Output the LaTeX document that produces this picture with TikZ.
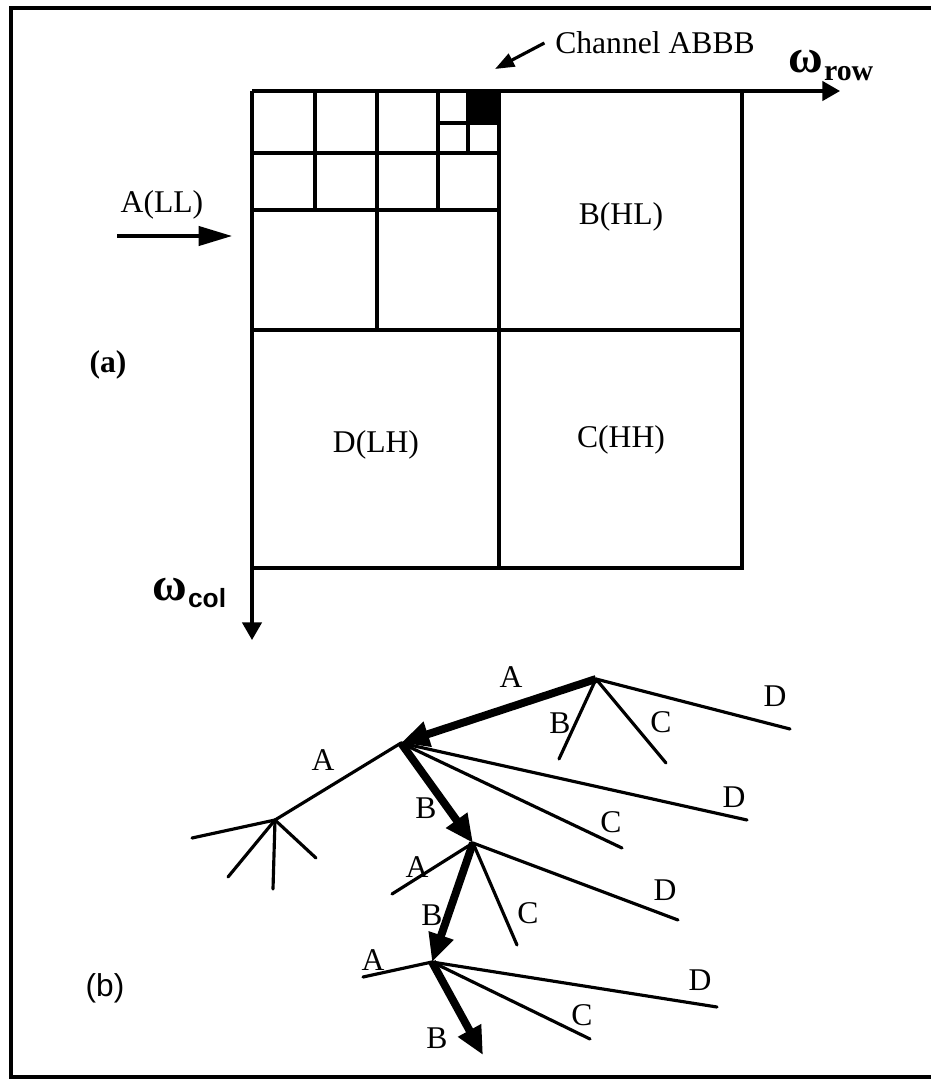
\documentclass[tikz,border=0pt]{standalone}
\usepackage{fontspec}
\setmainfont{Liberation Serif}
\setsansfont{Liberation Sans}
\usepackage{tikz}
\usetikzlibrary{arrows.meta, positioning, calc}
\tikzset{
  frameline/.style={line width=2pt},
  gridline/.style={line width=1.8pt},
  axis/.style={line width=1.8pt, -{Triangle[length=10pt, width=11pt]}},
  inarrow/.style={line width=1.8pt, -{Triangle[length=19pt, width=11pt]}},
  pointer/.style={line width=1.8pt, -{Triangle[length=11pt, width=8pt]}},
  branch/.style={line width=1.8pt, line cap=round},
  pathedge/.style={line width=4.5pt, -{Triangle[length=16pt, width=14pt]}},
  lbl/.style={font=\fontsize{18}{20}\selectfont, inner sep=0pt},
  tag/.style={font=\fontsize{18}{20}\selectfont\bfseries, inner sep=0pt},
  omega/.style={font=\fontsize{27}{28}\selectfont\bfseries, inner sep=0pt}
}

\begin{document}
\begin{tikzpicture}[x=0.02cm, y=-0.02cm]
  \useasboundingbox (0,0) rectangle (931,1079);
  % frame
  \draw[frameline] (931,8) -- (11,8) -- (11,1077) -- (931,1077);

  % (a) subband layout
  \coordinate (o) at (252,91);
  \coordinate (rowend) at (840,91);
  \coordinate (colend) at (252,640);
  \draw[axis] (o) -- (rowend);
  \draw[axis] (o) -- (colend);
  \draw[gridline] (742,91) -- (742,568) -- (252,568);
  \draw[gridline] (499,91) -- (499,568);
  \draw[gridline] (252,330) -- (742,330);
  \draw[gridline] (377,91) -- (377,330);
  \draw[gridline] (252,210) -- (499,210);
  \draw[gridline] (315,91) -- (315,210);
  \draw[gridline] (438,91) -- (438,210);
  \draw[gridline] (252,153) -- (499,153);
  \draw[gridline] (468,91) -- (468,153);
  \draw[gridline] (438,123) -- (499,123);
  \fill (468,91) rectangle (499,123);

  \node[lbl] (chan) at (655,43) {Channel ABBB};
  \coordinate (chantip) at (495,69);
  \draw[pointer] ([xshift=-6pt]chan.west) -- (chantip);
  \node[omega] (wrow) at (806,62) {ω};
  \node[tag, font=\fontsize{17}{18}\selectfont\bfseries, anchor=west] (rowsub) at (wrow.east |- 0,74) {row};
  \node[omega] (wcol) at (170,590) {ω};
  \node[tag, font=\fontsize{15}{16}\selectfont\sffamily\bfseries, anchor=west] (colsub) at (wcol.east |- 0,598) {col};

  \node[lbl] (ll) at (162,205) {A(LL)};
  \coordinate (llfrom) at (117,236);
  \coordinate (llto) at (232,236);
  \draw[inarrow] (llfrom) -- (llto);
  \node[lbl] (hl) at (621,217) {B(HL)};
  \node[lbl] (lh) at (376,445) {D(LH)};
  \node[lbl] (hh) at (621,440) {C(HH)};
  \node[tag] (taga) at (108,365) {(a)};

  % (b) decomposition tree
  \node[tag, font=\fontsize{18}{20}\selectfont\sffamily] (tagb) at (105,988) {(b)};
  \coordinate (r) at (596,679);
  \coordinate (n1) at (401,743);
  \coordinate (n0) at (275,820);
  \coordinate (n2) at (473,843);
  \coordinate (n3) at (432,962);
  \coordinate (n4) at (483,1055);

  \coordinate (rb) at (559,759);
  \coordinate (rc) at (666,763);
  \coordinate (rd) at (790,729);
  \draw[pathedge] (r) -- (n1);
  \draw[branch] (r) -- (rb);
  \draw[branch] (r) -- (rc);
  \draw[branch] (r) -- (rd);
  \node[lbl] (ra) at (511,677) {A};
  \node[lbl] (rbl) at (560,723) {B};
  \node[lbl] (rcl) at (661,722) {C};
  \node[lbl] (rdl) at (775,696) {D};

  \coordinate (c1) at (622,848);
  \coordinate (d1) at (747,820);
  \draw[branch] (n1) -- (n0);
  \draw[pathedge] (n1) -- (n2);
  \draw[branch] (n1) -- (c1);
  \draw[branch] (n1) -- (d1);
  \node[lbl] (a1) at (323,760) {A};
  \node[lbl] (b1) at (426,808) {B};
  \node[lbl] (c1l) at (611,822) {C};
  \node[lbl] (d1l) at (734,797) {D};

  \coordinate (e1) at (192,838);
  \coordinate (e2) at (228,877);
  \coordinate (e3) at (273,889);
  \coordinate (e4) at (316,858);
  \draw[branch] (n0) -- (e1);
  \draw[branch] (n0) -- (e2);
  \draw[branch] (n0) -- (e3);
  \draw[branch] (n0) -- (e4);

  \coordinate (a2) at (392,894);
  \coordinate (c2) at (517,945);
  \coordinate (d2) at (678,920);
  \draw[branch] (n2) -- (a2);
  \draw[pathedge] (n2) -- (n3);
  \draw[branch] (n2) -- (c2);
  \draw[branch] (n2) -- (d2);
  \node[lbl] (a2l) at (417,867) {A};
  \node[lbl] (b2l) at (432,915) {B};
  \node[lbl] (c2l) at (528,913) {C};
  \node[lbl] (d2l) at (665,890) {D};

  \coordinate (a3) at (363,977);
  \coordinate (c3) at (590,1039);
  \coordinate (d3) at (717,1007);
  \draw[branch] (n3) -- (a3);
  \draw[pathedge] (n3) -- (n4);
  \draw[branch] (n3) -- (c3);
  \draw[branch] (n3) -- (d3);
  \node[lbl] (a3l) at (373,960) {A};
  \node[lbl] (b3l) at (437,1038) {B};
  \node[lbl] (c3l) at (582,1015) {C};
  \node[lbl] (d3l) at (700,980) {D};
\end{tikzpicture}
\end{document}
